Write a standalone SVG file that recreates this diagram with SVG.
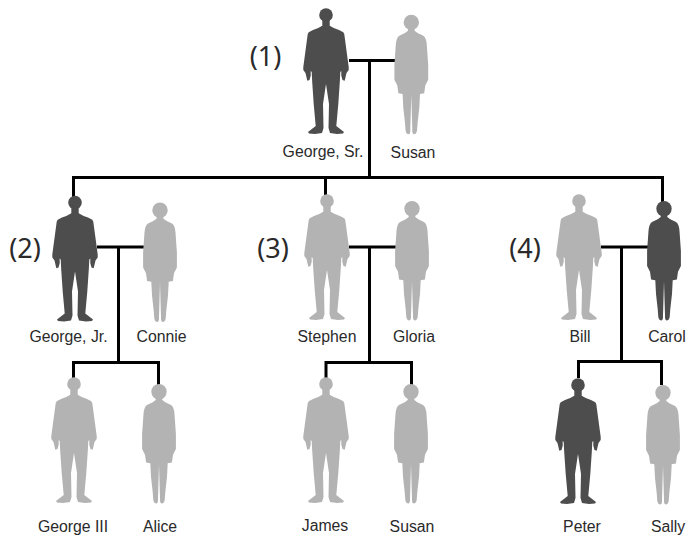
<svg xmlns="http://www.w3.org/2000/svg" width="690" height="536" viewBox="0 0 690 536">
<style>
.c{fill:none;stroke:#000;stroke-width:3}
.d{fill:#4d4d4d}.l{fill:#b3b3b3}
.t{font-family:"Liberation Sans",Arial,sans-serif;font-size:15.800px;fill:#2a2a2a;text-anchor:middle}
.n{font-family:"Noto Sans","Open Sans",sans-serif;font-size:27px;fill:#2a2a2a;text-anchor:middle}
</style>
<defs>
<g id="man"><circle cx="0" cy="7" r="6.800"/><path d="M-3.700,11 L3.700,11 L3.700,17.700 Q8,20.500 13,22 L17.300,24.300 Q18.500,25.500 18.700,29.300 L22.700,59 L22.700,62 L20.500,65 L18.700,72.700 L16.500,72 L15.300,67.700 L15.300,63 L14.300,64 L13.800,74 L12.300,96 L10.300,118 L18,124 L17,125.500 L11,126 L4,125 L2.500,120 L3,96 L0,76 L-3,96 L-2.500,120 L-4,125 L-11,126 L-17,125.500 L-18,124 L-10.300,118 L-12.300,96 L-13.800,74 L-14.300,64 L-15.300,63 L-15.300,67.700 L-16.500,72 L-18.700,72.700 L-20.500,65 L-22.700,62 L-22.700,59 L-18.700,29.300 Q-18.500,25.500 -17.300,24.300 L-13,22 Q-8,20.500 -3.700,17.700 Z"/></g>
<g id="woman"><circle cx="0" cy="7.700" r="7.700"/><path d="M-3.300,12 L3.300,12 L3.300,16 L6.300,18.300 L12,21 Q15,23 15.500,30 L16.900,50 L16.900,65 L14,70.700 L12.900,78.500 L8.700,79.300 L8,93 L6.300,108 L5.700,116 Q5,119.500 2.500,119.500 Q0.700,119 1,114 L0.800,108 L0,80 L-0.800,108 L-1,114 Q-0.700,119 -2.500,119.500 Q-5,119.500 -5.700,116 L-6.300,108 L-8,93 L-8.700,79.300 L-12.900,78.500 L-14,70.700 L-16.900,65 L-16.900,50 L-15.500,30 Q-15,23 -12,21 L-6.300,18.300 L-3.300,16 Z"/></g>
</defs>
<g id="connectors">
<path class="c" d="M349,60.500H395M369.500,60V177"/>
<path class="c" d="M662.500,203V177.500H73.500V197M325.500,177.500V195"/>
<path class="c" d="M97,247H144M118.500,247V362M73.500,378V362.500H158.500V385"/>
<path class="c" d="M349,247H396M369.500,247V362M326,378V362.500H411.500V385"/>
<path class="c" d="M601,247H648M621.500,247V361M578.500,378V361.500H661.500V385"/>
</g>
<g id="george-sr"><use href="#man" class="d" x="326" y="8"/><text class="t" x="323" y="157">George, Sr.</text><text class="n" x="265.500" y="66">(1)</text></g>
<g id="susan-1"><use href="#woman" class="l" x="411.300" y="14.700"/><text class="t" x="413" y="158">Susan</text></g>
<g id="george-jr"><use href="#man" class="d" x="75" y="195.500"/><text class="t" x="68.500" y="342">George, Jr.</text><text class="n" x="25" y="258">(2)</text></g>
<g id="connie"><use href="#woman" class="l" x="160" y="202.500"/><text class="t" x="161.500" y="342">Connie</text></g>
<g id="stephen"><use href="#man" class="l" x="327" y="194"/><text class="t" x="327" y="342">Stephen</text><text class="n" x="273" y="258">(3)</text></g>
<g id="gloria"><use href="#woman" class="l" x="412" y="201"/><text class="t" x="414" y="342">Gloria</text></g>
<g id="bill"><use href="#man" class="l" x="579" y="194"/><text class="t" x="580" y="342">Bill</text><text class="n" x="525" y="258">(4)</text></g>
<g id="carol"><use href="#woman" class="d" x="664" y="201"/><text class="t" x="667" y="342">Carol</text></g>
<g id="george-iii"><use href="#man" class="l" x="74" y="377"/><text class="t" x="73" y="532">George III</text></g>
<g id="alice"><use href="#woman" class="l" x="159" y="384"/><text class="t" x="160" y="532">Alice</text></g>
<g id="james"><use href="#man" class="l" x="326" y="377"/><text class="t" x="325" y="531">James</text></g>
<g id="susan-2"><use href="#woman" class="l" x="411" y="384"/><text class="t" x="412" y="532">Susan</text></g>
<g id="peter"><use href="#man" class="d" x="578" y="378"/><text class="t" x="582" y="532">Peter</text></g>
<g id="sally"><use href="#woman" class="l" x="663" y="385"/><text class="t" x="668" y="532">Sally</text></g>
</svg>
